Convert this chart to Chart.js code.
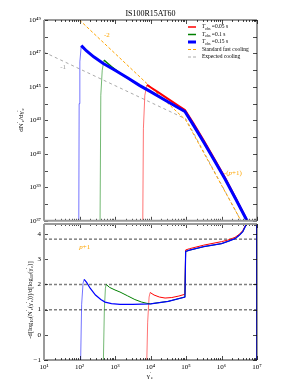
<!DOCTYPE html>
<html>
<head>
<meta charset="utf-8">
<script src="https://cdn.jsdelivr.net/npm/chart.js@4.4.1/dist/chart.umd.min.js"></script>
<style>
html, body { margin: 0; padding: 0; background: #fff; }
#wrap { position: relative; width: 294px; height: 392px; overflow: hidden; }
#wrap canvas { position: absolute; left: 0; }
#top { top: 0; }
#bot { top: 200px; }
</style>
</head>
<body>
<div id="wrap">
<canvas id="bot" width="294" height="192"></canvas>
<canvas id="top" width="294" height="228"></canvas>
</div>
<script>
const FONT = "'Liberation Serif', 'DejaVu Serif', serif";
const RED = '#ff0000', GREEN = '#008000', BLUE = '#0000ff', ORANGE = '#ffa500', GRAY = '#aaaaaa';
const FADED = { [RED]: 'rgba(255,0,0,0.55)', [GREEN]: 'rgba(0,128,0,0.55)', [BLUE]: 'rgba(0,0,255,0.55)' };

const title = 'IS100R15AT60';
const tObs = ['0.05', '0.1', '0.15'];
const coolingNames = ['Standard fast cooling', 'Expected cooling'];

// top panel: log10(gamma'_e) and log10(dN'_e/dgamma'_e)
const redLogG = [3.76, 3.8, 3.84, 3.9, 4.0, 4.2, 4.4, 4.6, 4.8, 4.97, 5.2, 5.5, 5.8, 6.1, 6.4, 6.72, 6.8];
const redLogN = [30, 42.5, 44.5, 45.12, 44.98, 44.7, 44.42, 44.14, 43.86, 43.62, 42.85, 41.8, 40.7, 39.58, 38.35, 37.03, 36];
const greenLogG = [2.56, 2.6, 2.64, 2.69, 2.8, 2.9, 3.1, 3.33, 3.6, 3.85, 4.0, 4.5, 4.97, 5.2, 5.5, 5.8, 6.1, 6.4, 6.72, 6.8];
const greenLogN = [30, 44.5, 46.0, 46.6, 46.4, 46.22, 45.88, 45.55, 45.2, 44.9, 44.72, 44.1, 43.53, 42.75, 41.7, 40.6, 39.5, 38.3, 37.0, 36];
const blueLogG = [1.97, 1.99, 2.01, 2.05, 2.2, 2.4, 2.67, 3.0, 3.35, 3.7, 4.0, 4.5, 4.97, 5.2, 5.5, 5.8, 6.1, 6.4, 6.72, 6.8];
const blueLogN = [30, 44, 46.5, 47.47, 47.15, 46.8, 46.4, 46.0, 45.55, 45.08, 44.72, 44.1, 43.53, 42.75, 41.7, 40.6, 39.5, 38.3, 37.0, 36];
const fastLogG = [2.0, 5.0, 6.55];
const fastLogN = [49, 43, 37];
const expLogG = [1.0, 5.0, 6.55];
const expLogN = [47.08, 43.08, 37];

// bottom panel: log10(gamma'_e) and local slope
const redSlopeG = [3.88, 3.92, 3.96, 3.99, 4.1, 4.25, 4.41, 4.6, 4.8, 4.97, 4.99, 5.1, 5.5, 6.0, 6.18, 6.38, 6.5, 6.6, 6.68, 6.72];
const redSlope = [-2, 0.5, 1.5, 1.68, 1.58, 1.5, 1.46, 1.48, 1.54, 1.61, 3.37, 3.42, 3.56, 3.7, 3.76, 3.87, 3.99, 4.14, 4.36, 4.6];
const greenSlopeG = [2.66, 2.7, 2.73, 2.75, 2.85, 3.0, 3.14, 3.35, 3.56, 3.75, 3.9, 4.0, 4.5, 4.97, 4.99, 5.1, 5.5, 6.0, 6.2, 6.38, 6.5, 6.6, 6.68, 6.72];
const greenSlope = [-2, 1.0, 1.85, 2.0, 1.88, 1.78, 1.7, 1.55, 1.4, 1.3, 1.25, 1.23, 1.33, 1.5, 3.31, 3.36, 3.5, 3.62, 3.72, 3.82, 3.95, 4.1, 4.33, 4.6];
const blueSlopeG = [2.02, 2.06, 2.1, 2.13, 2.2, 2.3, 2.45, 2.6, 2.72, 2.9, 3.14, 3.5, 4.0, 4.5, 4.97, 4.99, 5.1, 5.5, 6.0, 6.2, 6.38, 6.5, 6.6, 6.68, 6.72, 6.8, 6.99, 6.995];
const blueSlope = [-2, 1.2, 2.05, 2.2, 2.08, 1.85, 1.58, 1.4, 1.3, 1.24, 1.21, 1.21, 1.23, 1.33, 1.5, 3.31, 3.36, 3.5, 3.62, 3.72, 3.82, 3.95, 4.1, 4.33, 4.6, 6, 6, -3];
const refLevels = [3.8, 2, 1];

const topExps = [37, 38, 39, 40, 41, 42, 43, 44, 45, 46, 47, 48, 49];
const xExps = [1, 2, 3, 4, 5, 6, 7];
const slopeTicks = [-1, 0, 1, 2, 3, 4];

const SUP = {'0':'⁰','1':'¹','2':'²','3':'³','4':'⁴','5':'⁵','6':'⁶','7':'⁷','8':'⁸','9':'⁹','-':'⁻'};
function pow10Label(e) { return '10' + String(e).split('').map(c => SUP[c]).join(''); }

function logPts(lg, ln) { return lg.map((g, i) => ({ x: Math.pow(10, g), y: Math.pow(10, ln[i]) })); }
function linPts(lg, v) { return lg.map((g, i) => ({ x: Math.pow(10, g), y: v[i] })); }

// the steep injection edge (first three segments) is drawn thin and faded
function curve(data, color, width, order) {
    return {
        data: data, borderColor: color, borderWidth: width, order: order,
        segment: {
            borderWidth: c => c.p1DataIndex <= 3 ? 1 : undefined,
            borderColor: c => c.p1DataIndex <= 3 ? FADED[color] : undefined
        }
    };
}

function line(ctx, x1, y1, x2, y2) { ctx.beginPath(); ctx.moveTo(x1, y1); ctx.lineTo(x2, y2); ctx.stroke(); }

// rich text: segments {t, k: 0 normal, 1 sup, -1 sub}
function richWidth(ctx, segs, size) {
    let w = 0;
    segs.forEach(s => { ctx.font = (s.it ? 'italic ' : '') + (s.k ? size * 0.7 : size) + 'px ' + FONT; w += ctx.measureText(s.t).width; });
    return w;
}
function drawRich(ctx, x, y, segs, size, rot, color) {
    ctx.save();
    ctx.translate(x, y);
    if (rot) ctx.rotate(rot);
    ctx.fillStyle = color || '#000';
    ctx.textBaseline = 'middle';
    ctx.textAlign = 'left';
    let cx = -richWidth(ctx, segs, size) / 2;
    segs.forEach(s => {
        const sz = s.k ? size * 0.7 : size;
        ctx.font = (s.it ? 'italic ' : '') + sz + 'px ' + FONT;
        ctx.fillText(s.t, cx, s.k === 1 ? -size * 0.35 : s.k === -1 ? size * 0.3 : 0);
        cx += ctx.measureText(s.t).width;
    });
    ctx.restore();
}

function framePlugin(cfg) {
    return {
        id: 'frame',
        afterDraw(chart) {
            const ctx = chart.ctx, a = chart.chartArea, xs = chart.scales.x, ys = chart.scales.y;
            ctx.save();
            ctx.strokeStyle = '#000';
            ctx.lineWidth = 0.7;
            xExps.forEach(e => {
                for (let m = 1; m <= 9; m++) {
                    const v = m * Math.pow(10, e);
                    if (v > 1e7) break;
                    const px = Math.round(xs.getPixelForValue(v)) + 0.5;
                    const len = m === 1 ? 4 : 2;
                    line(ctx, px, a.top, px, a.top + len);
                    line(ctx, px, a.bottom, px, a.bottom - len);
                }
            });
            cfg.yTicks.forEach(v => {
                const py = Math.round(ys.getPixelForValue(v)) + 0.5;
                line(ctx, a.left, py, a.left + 4, py);
                line(ctx, a.right, py, a.right - 4, py);
            });
            const sp = cfg.spines;
            [['top', a.left, a.top, a.right, a.top], ['bottom', a.left, a.bottom, a.right, a.bottom],
             ['left', a.left, a.top, a.left, a.bottom], ['right', a.right, a.top, a.right, a.bottom]].forEach(s => {
                ctx.strokeStyle = sp[s[0]][0];
                ctx.lineWidth = sp[s[0]][1];
                line(ctx, s[1], s[2], s[3], s[4]);
            });
            // text labels on the data
            cfg.notes.forEach(n => {
                drawRich(ctx, xs.getPixelForValue(n.x), ys.getPixelForValue(n.y), n.segs, n.size, 0, n.color);
            });
            if (cfg.extra) cfg.extra(chart, ctx);
            ctx.restore();
        }
    };
}

function baseX(show) {
    return {
        type: 'logarithmic', min: 10, max: 1e7, display: show,
        grid: { display: false, drawTicks: false }, border: { display: false },
        afterBuildTicks: s => { s.ticks = xExps.map(e => ({ value: Math.pow(10, e) })); },
        ticks: { font: { family: FONT, size: 7 }, color: '#000', padding: 3, maxRotation: 0, autoSkip: false,
            callback: v => pow10Label(Math.round(Math.log10(v))) },
        afterFit: s => { s.height = show ? 32 : 0; }
    };
}

// top panel
new Chart(document.getElementById('top'), {
    type: 'scatter',
    data: {
        datasets: [
            { data: logPts(fastLogG, fastLogN), borderColor: ORANGE, borderWidth: 1, borderDash: [3, 2], order: 5 },
            { data: logPts(expLogG, expLogN), borderColor: GRAY, borderWidth: 1, borderDash: [3, 3], order: 6 },
            curve(logPts(redLogG, redLogN), RED, 2, 3),
            curve(logPts(greenLogG, greenLogN), GREEN, 1.5, 2),
            curve(logPts(blueLogG, blueLogN), BLUE, 3, 1)
        ].map(d => Object.assign({ showLine: true, pointRadius: 0, fill: false, tension: 0 }, d))
    },
    options: {
        responsive: false, animation: false, devicePixelRatio: 1, events: [],
        layout: { padding: { top: 20, right: 37, bottom: 4, left: 0 } },
        plugins: { legend: { display: false }, tooltip: { enabled: false } },
        scales: {
            x: baseX(false),
            y: {
                type: 'logarithmic', min: 1e37, max: 1e49,
                grid: { display: false, drawTicks: false }, border: { display: false },
                afterBuildTicks: s => { s.ticks = topExps.map(e => ({ value: Math.pow(10, e) })); },
                ticks: { font: { family: FONT, size: 7 }, color: '#000', padding: 3, autoSkip: false,
                    callback: v => { const e = Math.round(Math.log10(v)); return e % 2 ? pow10Label(e) : ''; } },
                afterFit: s => { s.width = 44; }
            }
        }
    },
    plugins: [framePlugin({
        yTicks: topExps.map(e => Math.pow(10, e)),
        spines: { top: ['#000', 0.8], right: ['#000', 0.8], left: ['#9a9a9a', 2], bottom: ['#9a9a9a', 2] },
        notes: [
            { x: Math.pow(10, 2.77), y: Math.pow(10, 48.12), segs: [{ t: '-2' }], size: 7, color: ORANGE },
            { x: Math.pow(10, 1.54), y: Math.pow(10, 46.18), segs: [{ t: '-1' }], size: 7, color: '#999' },
            { x: Math.pow(10, 6.32), y: Math.pow(10, 39.82), segs: [{ t: '-(' }, { t: 'p', it: 1 }, { t: '+1)' }], size: 7, color: ORANGE }
        ],
        extra: (chart, ctx) => {
            const a = chart.chartArea;
            ctx.fillStyle = '#000';
            ctx.font = '8px ' + FONT;
            ctx.textAlign = 'center';
            ctx.textBaseline = 'alphabetic';
            ctx.fillText(title, (a.left + a.right) / 2, 16);
            drawRich(ctx, 21, 120, [{ t: 'dN' }, { t: '′', k: 1 }, { t: 'e', k: -1 }, { t: '/dγ' }, { t: '′', k: 1 }, { t: 'e', k: -1 }], 7, -Math.PI / 2);
            // legend
            const rows = [
                { c: RED, w: 1.5, d: [], segs: [{ t: 'T', it: 1 }, { t: 'obs', k: -1 }, { t: ' =' + tObs[0] + ' s' }] },
                { c: GREEN, w: 1.5, d: [], segs: [{ t: 'T', it: 1 }, { t: 'obs', k: -1 }, { t: ' =' + tObs[1] + ' s' }] },
                { c: BLUE, w: 3, d: [], segs: [{ t: 'T', it: 1 }, { t: 'obs', k: -1 }, { t: ' =' + tObs[2] + ' s' }] },
                { c: ORANGE, w: 1, d: [3, 2], segs: [{ t: coolingNames[0] }] },
                { c: GRAY, w: 1, d: [3, 2], segs: [{ t: coolingNames[1] }] }
            ];
            rows.forEach((r, i) => {
                const y = 27 + i * 7.5;
                ctx.strokeStyle = r.c; ctx.lineWidth = r.w; ctx.setLineDash(r.d);
                line(ctx, 188, y, 196, y);
                ctx.setLineDash([]);
                const w = richWidth(ctx, r.segs, 5.5);
                drawRich(ctx, 202 + w / 2, y, r.segs, 5.5, 0, '#000');
            });
        }
    })]
});

// bottom panel
const refSets = refLevels.map((v, i) => ({
    data: [{ x: 10, y: v }, { x: 1e7, y: v }],
    borderColor: i === 0 ? 'rgba(0,0,0,0.75)' : 'rgba(0,0,0,0.5)', borderWidth: i === 0 ? 1 : 1.5, borderDash: [3, 2], order: 8
}));
new Chart(document.getElementById('bot'), {
    type: 'scatter',
    data: {
        datasets: refSets.concat([
            curve(linPts(redSlopeG, redSlope), RED, 1, 3),
            curve(linPts(greenSlopeG, greenSlope), GREEN, 1, 2),
            curve(linPts(blueSlopeG, blueSlope), BLUE, 1.2, 1)
        ]).map(d => Object.assign({ showLine: true, pointRadius: 0, fill: false, tension: 0 }, d))
    },
    options: {
        responsive: false, animation: false, devicePixelRatio: 1, events: [],
        layout: { padding: { top: 24, right: 37, bottom: 0, left: 0 } },
        plugins: { legend: { display: false }, tooltip: { enabled: false } },
        scales: {
            x: baseX(true),
            y: {
                type: 'linear', min: -1, max: 4.4,
                grid: { display: false, drawTicks: false }, border: { display: false },
                afterBuildTicks: s => { s.ticks = slopeTicks.map(v => ({ value: v })); },
                ticks: { font: { family: FONT, size: 7 }, color: '#000', padding: 3, autoSkip: false,
                    callback: v => v < 0 ? '−' + Math.abs(v) : String(v) },
                afterFit: s => { s.width = 44; }
            }
        }
    },
    plugins: [framePlugin({
        yTicks: slopeTicks,
        spines: { top: ['#9a9a9a', 2], right: ['#000', 0.8], left: ['#9a9a9a', 2], bottom: ['#000', 0.8] },
        notes: [
            { x: Math.pow(10, 2.15), y: 3.47, segs: [{ t: 'p', it: 1 }, { t: '+1' }], size: 7, color: ORANGE }
        ],
        extra: (chart, ctx) => {
            drawRich(ctx, 30, 100, [{ t: '-d[log' }, { t: '10', k: -1 }, { t: '(N' }, { t: '′', k: 1 }, { t: 'e', k: -1 }, { t: '(γ' }, { t: '′', k: 1 }, { t: 'e', k: -1 }, { t: '))]/d[log' }, { t: '10', k: -1 }, { t: '(γ' }, { t: '′', k: 1 }, { t: 'e', k: -1 }, { t: ')]' }], 6.5, -Math.PI / 2);
            drawRich(ctx, 150, 176, [{ t: 'γ' }, { t: '′', k: 1 }, { t: 'e', k: -1 }], 7, 0);
        }
    })]
});
</script>
</body>
</html>
